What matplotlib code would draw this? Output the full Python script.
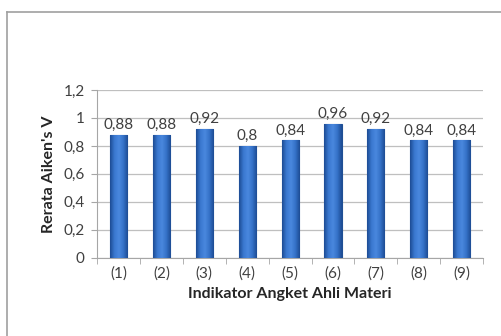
import matplotlib
matplotlib.use("Agg")
import matplotlib.pyplot as plt
import numpy as np
from matplotlib.lines import Line2D
from matplotlib.colors import LinearSegmentedColormap

categories = ["(1)", "(2)", "(3)", "(4)", "(5)", "(6)", "(7)", "(8)", "(9)"]
values = [0.88, 0.88, 0.92, 0.8, 0.84, 0.96, 0.92, 0.84, 0.84]
yticks = [0, 0.2, 0.4, 0.6, 0.8, 1.0, 1.2]
ytick_labels = ["0", "0,2", "0,4", "0,6", "0,8", "1", "1,2"]
xlabel = "Indikator Angket Ahli Materi"
ylabel = "Rerata Aiken's V"

plt.rcParams['font.family'] = ['Lato', 'DejaVu Sans']

fig = plt.figure(figsize=(5.01, 3.36), dpi=100)
ax = fig.add_axes([0.194, 0.233, 0.770, 0.499])

x = np.arange(len(categories))
bars = ax.bar(x, values, width=0.4, color="#3572c8", edgecolor="#1f4f94", linewidth=0.8, zorder=3)

grad = np.linspace(0, 1, 64).reshape(1, -1)
cmap = LinearSegmentedColormap.from_list("b", ["#1d4c94", "#3a78d0", "#4a88de", "#3572c8", "#1d4c94"])
for b in bars:
    x0, y0 = b.get_x(), b.get_y()
    w, h = b.get_width(), b.get_height()
    im = ax.imshow(grad, extent=[x0, x0 + w, y0, y0 + h], aspect="auto", cmap=cmap, zorder=3.5)
    im.set_clip_path(b)

for xi, v in zip(x, values):
    lab = ("%g" % v).replace(".", ",")
    ax.text(xi, v + 0.02, lab, ha="center", va="bottom", fontsize=11, color="#404040", zorder=5)

ax.set_xlim(-0.5, len(categories) - 0.5)
ax.set_ylim(0, 1.2)
ax.set_yticks(yticks)
ax.set_yticklabels(ytick_labels, fontsize=11, color="#404040")
ax.set_xticks(x)
ax.set_xticklabels(categories, fontsize=11, color="#404040")
ax.set_xticks(np.arange(-0.5, len(categories), 1.0), minor=True)
ax.tick_params(axis="x", which="major", length=0, pad=6)
ax.tick_params(axis="x", which="minor", length=4, color="#a6a6a6", direction="out")
ax.tick_params(axis="y", length=4, color="#a6a6a6", pad=5)

ax.yaxis.grid(True, color="#bfbfbf", linewidth=0.9, zorder=0)
ax.set_axisbelow(True)
for s in ["top", "right"]:
    ax.spines[s].set_visible(False)
ax.spines["left"].set_color("#a6a6a6")
ax.spines["bottom"].set_color("#a6a6a6")

ax.set_xlabel(xlabel, fontsize=11.5, fontweight="bold", color="#262626", labelpad=5)
ax.set_ylabel(ylabel, fontsize=11.5, fontweight="bold", color="#262626", labelpad=5)

fig.add_artist(Line2D([7/501, 7/501], [0, 1 - 12/336], transform=fig.transFigure, color="#a0a0a0", lw=1.2))
fig.add_artist(Line2D([7/501, 1], [1 - 12/336, 1 - 12/336], transform=fig.transFigure, color="#a0a0a0", lw=1.2))

fig.savefig("out.png", dpi=100)
